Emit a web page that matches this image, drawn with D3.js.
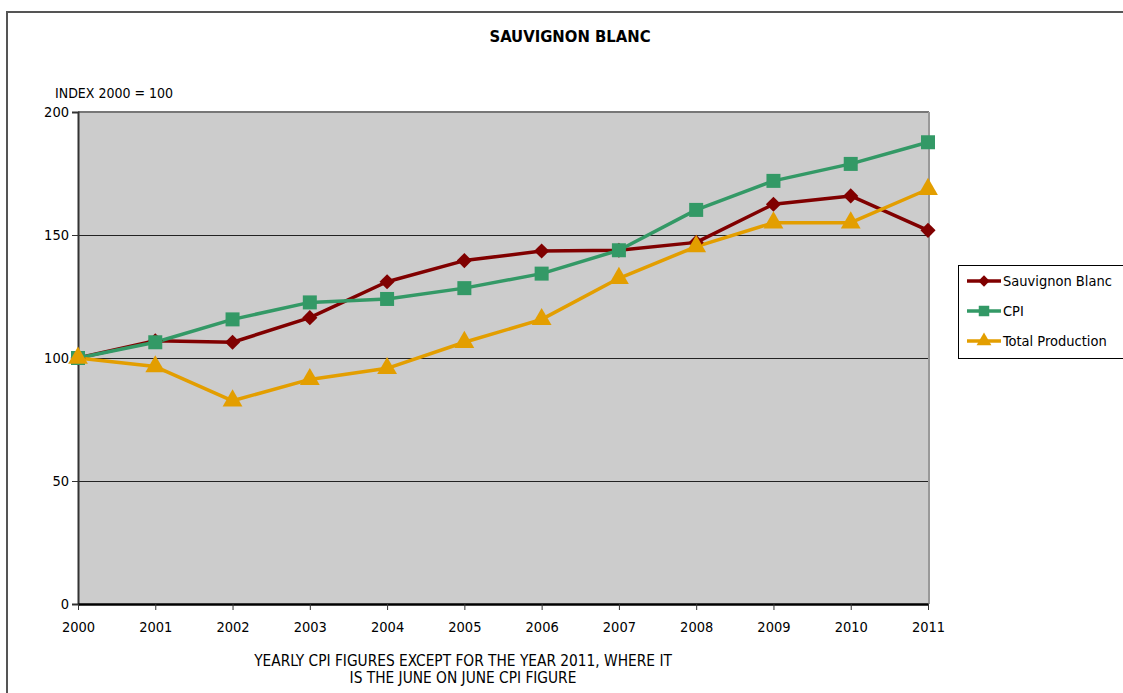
<!DOCTYPE html>
<html><head><meta charset="utf-8">
<script src="https://cdn.jsdelivr.net/npm/d3@7"></script>
<style>
body{margin:0;background:#fff;}
text{font-family:"DejaVu Sans Condensed","DejaVu Sans",sans-serif;fill:#000;}
</style></head>
<body>
<svg id="c" width="1123" height="693"></svg>
<script>
const years = ["2000","2001","2002","2003","2004","2005","2006","2007","2008","2009","2010","2011"];
const sauvignonBlanc = [100,107,106.4,116.4,131,139.6,143.5,143.8,147,162.5,165.9,151.9];
const cpi = [100,106.4,115.7,122.6,124,128.4,134.3,143.8,160.2,172,178.9,187.7];
const totalProduction = [100,96.5,82.6,91.3,95.8,106.4,115.7,132.4,145.3,155,155,168.6];
const yTicks = [0,50,100,150,200];
const seriesNames = ["Sauvignon Blanc","CPI","Total Production"];
const seriesColors = ["#800000","#339966","#e39e00"];
const title = "SAUVIGNON BLANC";
const yAxisTitle = "INDEX 2000 = 100";
const footnote = ["YEARLY CPI FIGURES EXCEPT FOR THE YEAR 2011, WHERE IT","IS THE JUNE ON JUNE CPI FIGURE"];

const FONT = "'DejaVu Sans Condensed','DejaVu Sans',sans-serif";
const svg = d3.select("#c");
const L=78,R=928,T=112,B=604;
const x = d3.scalePoint().domain(years).range([L,R]);
const y = d3.scaleLinear().domain([0,200]).range([B,T]);

// marker generators
const diamondPath = d3.symbol().type(d3.symbolSquare).size(115)();
const squarePath = d3.symbol().type(d3.symbolSquare).size(196)();
const trianglePath = d3.symbol().type(d3.symbolTriangle).size(170)();
const markers = [
  {d:diamondPath, rot:45},
  {d:squarePath, rot:0},
  {d:trianglePath, rot:0}
];

// outer chart border
svg.append("path").attr("d",`M7,700 L7,12 L1130,12`).attr("fill","none").attr("stroke","#555").attr("stroke-width",2);

// plot area
svg.append("rect").attr("x",L).attr("y",T).attr("width",R-L+1).attr("height",B-T).attr("fill","#cccccc");
svg.append("line").attr("x1",L).attr("x2",R+1).attr("y1",T).attr("y2",T).attr("stroke","#777").attr("stroke-width",2);
svg.append("line").attr("x1",R+1).attr("x2",R+1).attr("y1",T).attr("y2",B).attr("stroke","#999").attr("stroke-width",2);

// gridlines
svg.append("g").selectAll("line").data(yTicks.filter(d=>d>0&&d<200)).join("line")
  .attr("x1",L).attr("x2",R).attr("y1",d=>Math.round(y(d))+0.5).attr("y2",d=>Math.round(y(d))+0.5)
  .attr("stroke","#222").attr("stroke-width",1.2);

// y axis
const ya = svg.append("g").attr("transform",`translate(${L},0)`)
  .call(d3.axisLeft(y).tickValues(yTicks).tickSize(6).tickPadding(3).tickFormat(d3.format("d")));
ya.select(".domain").attr("stroke","#333").attr("stroke-width",2);
ya.selectAll("text").attr("font-size",14.5).style("font-family",FONT);
ya.selectAll(".tick line").attr("stroke","#333");

// x axis
const xa = svg.append("g").attr("transform",`translate(0,${B})`)
  .call(d3.axisBottom(x).tickSize(6).tickPadding(12).tickSizeOuter(0));
xa.select(".domain").attr("stroke","#000").attr("stroke-width",2.5);
xa.selectAll("text").attr("font-size",14.5).style("font-family",FONT);
xa.selectAll(".tick line").attr("stroke","#333");

// series
const allSeries = [sauvignonBlanc,cpi,totalProduction];
const line = d3.line().x((d,i)=>x(years[i])).y(d=>y(d));
allSeries.forEach((vals,k)=>{
  svg.append("path").datum(vals).attr("d",line).attr("fill","none")
    .attr("stroke",seriesColors[k]).attr("stroke-width",3.5).attr("stroke-linejoin","round");
});
allSeries.forEach((vals,k)=>{
  svg.append("g").selectAll("path").data(vals).join("path")
    .attr("transform",(d,i)=>`translate(${x(years[i])},${y(d)}) rotate(${markers[k].rot})`)
    .attr("d",markers[k].d)
    .attr("fill",seriesColors[k]);
});

// title & labels
svg.append("text").attr("x",570).attr("y",42).attr("text-anchor","middle")
  .attr("font-size",16.5).attr("font-weight","bold").style("font-family",FONT).text(title);
svg.append("text").attr("x",55).attr("y",98).attr("font-size",14).style("font-family",FONT).text(yAxisTitle);
svg.append("g").selectAll("text").data(footnote).join("text")
  .attr("x",463).attr("y",(d,i)=>666+i*17).attr("text-anchor","middle").attr("font-size",15.3)
  .style("font-family",FONT).text(d=>d);

// legend
const lg = svg.append("g");
lg.append("rect").attr("x",958.5).attr("y",265.5).attr("width",170).attr("height",93).attr("fill","#fff").attr("stroke","#000");
seriesNames.forEach((n,k)=>{
  const yy = 281+k*30;
  lg.append("line").attr("x1",967).attr("x2",1001).attr("y1",yy).attr("y2",yy).attr("stroke",seriesColors[k]).attr("stroke-width",3.5);
  lg.append("path").attr("transform",`translate(984,${yy}) rotate(${markers[k].rot}) scale(0.75)`).attr("d",markers[k].d).attr("fill",seriesColors[k]);
  lg.append("text").attr("x",1003).attr("y",yy+5).attr("font-size",14.5).style("font-family",FONT).text(n);
});
</script>
</body></html>
